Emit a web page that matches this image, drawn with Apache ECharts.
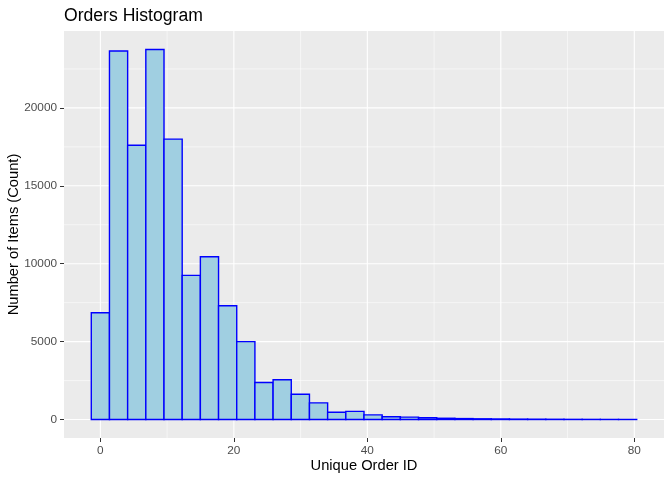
<!DOCTYPE html>
<html>
<head>
<meta charset="utf-8">
<script src="https://cdn.jsdelivr.net/npm/echarts@6/dist/echarts.min.js"></script>
<style>html,body{margin:0;padding:0;background:#fff}#c{width:672px;height:480px}</style>
</head>
<body>
<div id="c"></div>
<script>
// Histogram: 30 bins, centred from 0 to 79
const binCenterFirst = 0;
const binWidth = 79 / 29;
const counts = [6850, 23650, 17600, 23750, 18000, 9250, 10450, 7300, 5000, 2375,
  2550, 1620, 1070, 470, 520, 295, 180, 150, 110, 80,
  60, 45, 35, 25, 20, 15, 10, 8, 5, 3];
const xTicks = [0, 20, 40, 60, 80];
const xMinor = [10, 30, 50, 70];
const yTicks = [0, 5000, 10000, 15000, 20000];
const yMinor = [2500, 7500, 12500, 17500, 22500];

const xMin = -5.45, xMax = 84.45, yMin = -1187, yMax = 24937;

const barData = counts.map((c, i) => {
  const c0 = binCenterFirst + i * binWidth;
  return [c0 - binWidth / 2, c0 + binWidth / 2, c];
});

const chart = echarts.init(document.getElementById('c'), null, {renderer: 'canvas'});
const font = 'Liberation Sans, Arial, Helvetica, sans-serif';

function vGrid(params, api) {
  const cs = params.coordSys;
  const x = api.coord([api.value(0), 0])[0];
  return {type: 'line', shape: {x1: x, y1: cs.y, x2: x, y2: cs.y + cs.height},
    style: {stroke: '#FFFFFF', lineWidth: api.value(1)}};
}
function hGrid(params, api) {
  const cs = params.coordSys;
  const y = api.coord([0, api.value(0)])[1];
  return {type: 'line', shape: {x1: cs.x, y1: y, x2: cs.x + cs.width, y2: y},
    style: {stroke: '#FFFFFF', lineWidth: api.value(1)}};
}

chart.setOption({
  animation: false,
  title: {text: 'Orders Histogram', left: 59, top: 2,
    textStyle: {fontFamily: font, fontSize: 17.6, fontWeight: 'normal', color: '#000'}},
  grid: {left: 64, right: 8, top: 31, bottom: 42, containLabel: false, outerBoundsMode: 'none',
    show: true, backgroundColor: '#EBEBEB', borderWidth: 0},
  xAxis: {type: 'value', min: xMin, max: xMax,
    name: 'Unique Order ID', nameLocation: 'middle', nameGap: 20, nameMoveOverlap: false,
    nameTextStyle: {fontFamily: font, fontSize: 14.7, color: '#000'},
    axisLine: {show: false, onZero: false},
    axisTick: {show: true, customValues: xTicks, length: 4, lineStyle: {color: '#333333', width: 1}},
    axisLabel: {customValues: xTicks, margin: 7, fontFamily: font, fontSize: 11.8, color: '#4D4D4D',
      formatter: v => String(v)},
    splitLine: {show: false}},
  yAxis: {type: 'value', min: yMin, max: yMax,
    name: 'Number of Items (Count)', nameLocation: 'middle', nameGap: 43, nameMoveOverlap: false,
    nameTextStyle: {fontFamily: font, fontSize: 14.7, color: '#000'},
    axisLine: {show: false, onZero: false},
    axisTick: {show: true, customValues: yTicks, length: 4, lineStyle: {color: '#333333', width: 1}},
    axisLabel: {customValues: yTicks, margin: 7, fontFamily: font, fontSize: 11.8, color: '#4D4D4D',
      formatter: v => String(v)},
    splitLine: {show: false}},
  series: [
    {type: 'custom', silent: true, z: 1, renderItem: vGrid,
      data: xMinor.map(v => [v, 0.55]).concat(xTicks.map(v => [v, 1.1]))},
    {type: 'custom', silent: true, z: 1, renderItem: hGrid,
      data: yMinor.map(v => [v, 0.55]).concat(yTicks.map(v => [v, 1.1]))},
    {type: 'custom', z: 3, data: barData,
      renderItem: function (params, api) {
        const p0 = api.coord([api.value(0), api.value(2)]);
        const p1 = api.coord([api.value(1), 0]);
        return {type: 'rect',
          shape: {x: p0[0], y: p0[1], width: p1[0] - p0[0], height: p1[1] - p0[1]},
          style: {fill: '#A0CFE1', stroke: '#0000FF', lineWidth: 1.4}};
      }}
  ]
});
</script>
</body>
</html>
